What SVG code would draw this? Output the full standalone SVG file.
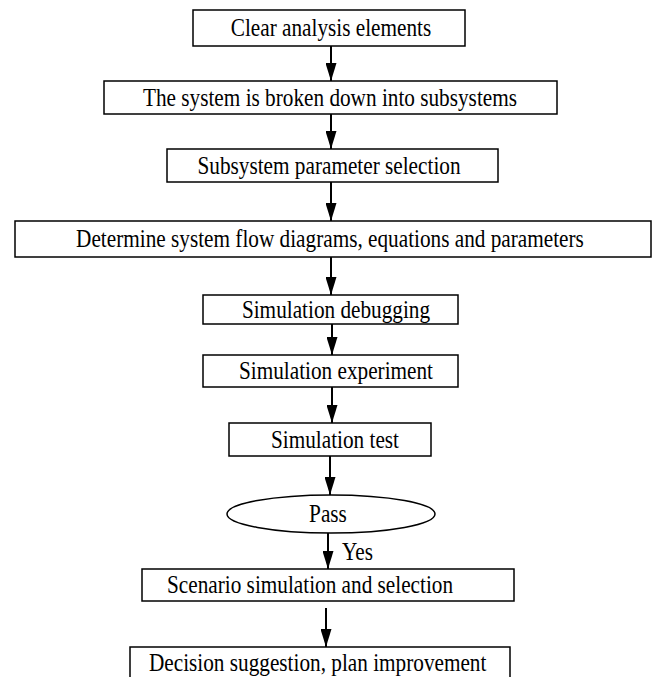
<svg xmlns="http://www.w3.org/2000/svg" width="654" height="677" viewBox="0 0 654 677">
<style>
.box{fill:#fff;stroke:#000;stroke-width:1.5}
.t{font-family:"Liberation Serif","Times New Roman",serif;font-size:25px;fill:#000;text-anchor:middle}
.s{text-anchor:start}
.ln{stroke:#000;stroke-width:2;fill:none}
</style>
<defs>
<marker id="ah" viewBox="0 0 18 11" refX="18" refY="5.5" markerWidth="18" markerHeight="11" markerUnits="userSpaceOnUse" orient="auto">
<path d="M0,0 L18,5.5 L0,11 Z" fill="#000"/>
</marker>
</defs>
<rect width="654" height="677" fill="#fff"/>
<g id="connectors">
<line class="ln" x1="331" y1="46" x2="331" y2="81" marker-end="url(#ah)"/>
<line class="ln" x1="331" y1="114" x2="331" y2="149" marker-end="url(#ah)"/>
<line class="ln" x1="331" y1="182" x2="331" y2="221" marker-end="url(#ah)"/>
<line class="ln" x1="331" y1="257" x2="331" y2="295" marker-end="url(#ah)"/>
<line class="ln" x1="332" y1="324" x2="332" y2="355" marker-end="url(#ah)"/>
<line class="ln" x1="332" y1="387" x2="332" y2="423" marker-end="url(#ah)"/>
<line class="ln" x1="330" y1="456" x2="330" y2="495" marker-end="url(#ah)"/>
<line class="ln" x1="328" y1="533" x2="328" y2="569" marker-end="url(#ah)"/>
<line class="ln" x1="326" y1="608" x2="326" y2="647" marker-end="url(#ah)"/>
<text class="t s" transform="translate(342,560) scale(0.85,1)">Yes</text>
</g>
<g id="n1"><rect class="box" x="193" y="10" width="272" height="36"/><text class="t" transform="translate(331,36) scale(0.85,1)">Clear analysis elements</text></g>
<g id="n2"><rect class="box" x="104" y="81" width="453" height="33"/><text class="t" transform="translate(330,105.5) scale(0.85,1)">The system is broken down into subsystems</text></g>
<g id="n3"><rect class="box" x="167" y="149" width="331" height="33"/><text class="t" transform="translate(329,173.5) scale(0.85,1)">Subsystem parameter selection</text></g>
<g id="n4"><rect class="box" x="15" y="221" width="636" height="36"/><text class="t" transform="translate(330,247) scale(0.85,1)">Determine system flow diagrams, equations and parameters</text></g>
<g id="n5"><rect class="box" x="203" y="295" width="255" height="29"/><text class="t" transform="translate(336,317.5) scale(0.85,1)">Simulation debugging</text></g>
<g id="n6"><rect class="box" x="203" y="355" width="255" height="32"/><text class="t" transform="translate(336,379) scale(0.85,1)">Simulation experiment</text></g>
<g id="n7"><rect class="box" x="229" y="423" width="202" height="33"/><text class="t" transform="translate(335,447.5) scale(0.85,1)">Simulation test</text></g>
<g id="n8"><ellipse class="box" cx="331" cy="514" rx="104" ry="19"/><text class="t" transform="translate(328,522) scale(0.85,1)">Pass</text></g>
<g id="n9"><rect class="box" x="142" y="569" width="372" height="32"/><text class="t s" transform="translate(167,593) scale(0.85,1)">Scenario simulation and selection</text></g>
<g id="n10"><rect class="box" x="130" y="647" width="380" height="40"/><text class="t s" transform="translate(149,671) scale(0.85,1)">Decision suggestion, plan improvement</text></g>
</svg>
